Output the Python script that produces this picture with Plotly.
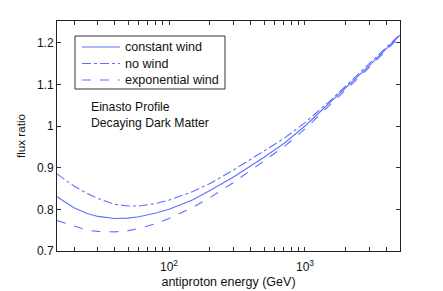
import plotly.graph_objects as go

energy = [15, 20, 25, 30, 40, 50, 60, 80, 100, 150, 200, 300, 500, 700, 1000, 1500, 2000, 3000, 5000]
constant_wind = [0.830, 0.804, 0.790, 0.783, 0.778, 0.779, 0.782, 0.791, 0.800, 0.823, 0.845, 0.878, 0.925, 0.958, 1.000, 1.053, 1.092, 1.146, 1.218]
no_wind = [0.885, 0.856, 0.838, 0.826, 0.812, 0.808, 0.808, 0.814, 0.822, 0.843, 0.862, 0.895, 0.940, 0.970, 1.008, 1.058, 1.096, 1.150, 1.220]
exponential_wind = [0.773, 0.759, 0.750, 0.747, 0.746, 0.749, 0.754, 0.766, 0.778, 0.805, 0.828, 0.865, 0.915, 0.950, 0.993, 1.047, 1.087, 1.142, 1.215]

series_names = ["constant wind", "no wind", "exponential wind"]
series_dash = ["solid", "dashdot", "dash"]

y_ticks = [0.7, 0.8, 0.9, 1.0, 1.1, 1.2]
y_ticklabels = ["0.7", "0.8", "0.9", "1", "1.1", "1.2"]
x_ticks = [20, 30, 40, 50, 60, 70, 80, 90, 100, 200, 300, 400, 500, 600, 700, 800, 900, 1000, 2000, 3000, 4000, 5000]
x_ticklabels = ["" if v not in (100, 1000) else ("10<sup>2</sup>" if v == 100 else "10<sup>3</sup>") for v in x_ticks]

color = "#5f70ff"
font = "Liberation Sans, Arial, Helvetica, sans-serif"

fig = go.Figure()
for name, vals, dash in zip(series_names, [constant_wind, no_wind, exponential_wind], series_dash):
    fig.add_trace(go.Scatter(x=energy, y=vals, mode="lines", name=name, showlegend=False,
                             line=dict(color=color, width=1.1, dash=dash)))

# manual legend (paper coordinates) to match compact boxed legend
W, H = 343.0, 230.0
def px(x):
    return (x - 57) / W
def py(y):
    return (251 - y) / H

fig.add_shape(type="rect", xref="paper", yref="paper", x0=px(75), x1=px(225), y0=py(89), y1=py(36),
              line=dict(color="#333", width=1), fillcolor="white", layer="above")
for i, (name, dash) in enumerate(zip(series_names, series_dash)):
    yy = 47 + i * 16.5
    fig.add_shape(type="line", xref="paper", yref="paper", x0=px(82), x1=px(120), y0=py(yy), y1=py(yy),
                  line=dict(color=color, width=1.1, dash=dash), layer="above")
    fig.add_annotation(text=name, xref="paper", yref="paper", x=px(123), y=py(yy),
                       xanchor="left", yanchor="middle", showarrow=False,
                       font=dict(family=font, size=12.6, color="#111"))

fig.add_annotation(text="Einasto Profile<br>Decaying Dark Matter", xref="paper", yref="paper",
                   x=px(89), y=py(115), xanchor="left", yanchor="middle", showarrow=False, align="left",
                   font=dict(family=font, size=12.2, color="#111"))

fig.update_layout(
    width=443, height=291,
    margin=dict(l=49, r=51, t=13, b=48),
    paper_bgcolor="white", plot_bgcolor="white",
    font=dict(family=font, size=11, color="#111"),
    showlegend=False,
    xaxis=dict(type="log", range=[1.176, 3.699], tickmode="array", tickvals=x_ticks, ticktext=x_ticklabels,
               ticks="inside", ticklen=4, tickcolor="#333", showline=True, linecolor="#222", linewidth=1,
               mirror="ticks", showgrid=False, zeroline=False, automargin=False,
               tickfont=dict(size=12), ticklabelstandoff=5,
               title=dict(text="antiproton energy (GeV)", standoff=3, font=dict(size=12.5))),
    yaxis=dict(range=[0.7, 1.252], tickmode="array", tickvals=y_ticks, ticktext=y_ticklabels,
               ticks="inside", ticklen=4, tickcolor="#333", showline=True, linecolor="#222", linewidth=1,
               mirror="ticks", showgrid=False, zeroline=False, automargin=False,
               tickfont=dict(size=12),
               title=dict(text="flux ratio", standoff=8, font=dict(size=11.7))),
)

fig.write_html("out.html")
